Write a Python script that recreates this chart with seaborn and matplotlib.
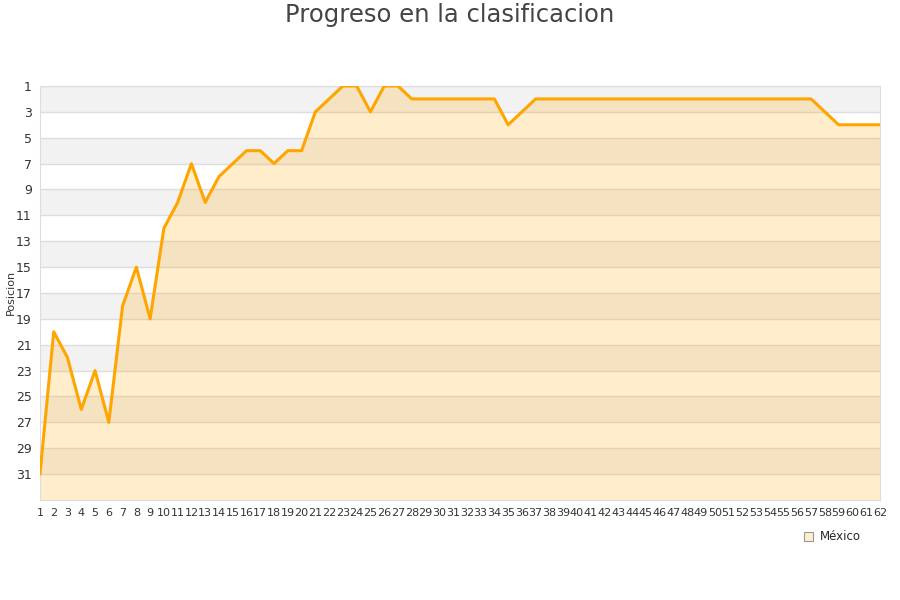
import matplotlib
matplotlib.use("Agg")
import matplotlib.pyplot as plt
from matplotlib.patches import Patch
import seaborn as sns
import pandas as pd

jornadas = list(range(1, 63))
posicion = [31, 20, 22, 26, 23, 27, 18, 15, 19, 12,
            10, 7, 10, 8, 7, 6, 6, 7, 6, 6,
            3, 2, 1, 1, 3, 1, 1, 2, 2, 2,
            2, 2, 2, 2, 4, 3, 2, 2, 2, 2,
            2, 2, 2, 2, 2, 2, 2, 2, 2, 2,
            2, 2, 2, 2, 2, 2, 2, 3, 4, 4,
            4, 4]
equipo = "México"
y_ticks = list(range(1, 32, 2))

df = pd.DataFrame({"Jornada": jornadas, "Posicion": posicion})

sns.set_style("white")
fig = plt.figure(figsize=(9, 6), dpi=100)
ax = fig.add_axes([0.0444, 0.1667, 0.9333, 0.69])

# alternating background bands
for k, lo in enumerate(range(1, 33, 2)):
    if k % 2 == 0:
        ax.axhspan(lo, lo + 2, color="#f2f2f2", zorder=0, lw=0)
for t in y_ticks:
    ax.axhline(t, color="#dddddd", lw=1, zorder=1)

ax.fill_between(df["Jornada"], df["Posicion"], 33, color="#FFA500",
                alpha=0.2, lw=0, zorder=2)
sns.lineplot(data=df, x="Jornada", y="Posicion", color="#FFA500",
             linewidth=2.2, ax=ax, zorder=3)

ax.set_xlim(1, 62)
ax.set_ylim(33, 1)
ax.set_xticks(jornadas)
ax.set_xticklabels([str(j) for j in jornadas], fontsize=8, color="#333333")
ax.set_yticks(y_ticks)
ax.set_yticklabels([str(t) for t in y_ticks], fontsize=9, color="#333333")
ax.tick_params(length=0, pad=6)
ax.set_xlabel("")
ax.set_ylabel("")
fig.text(0.012, 0.512, "Posicion", rotation=90, fontsize=8, color="#333333",
         ha="center", va="center")
for s in ax.spines.values():
    s.set_color("#dddddd")

fig.suptitle("Progreso en la clasificacion", fontsize=17.5, color="#444444", y=0.995)

handle = Patch(facecolor="#FFEDCC", edgecolor="#999999", lw=0.8, label=equipo)
fig.legend(handles=[handle], loc="center", bbox_to_anchor=(0.925, 0.105),
           frameon=False, fontsize=8.5, handlelength=0.8, handleheight=0.8,
           handletextpad=0.6)

fig.savefig("out.png", dpi=100)
